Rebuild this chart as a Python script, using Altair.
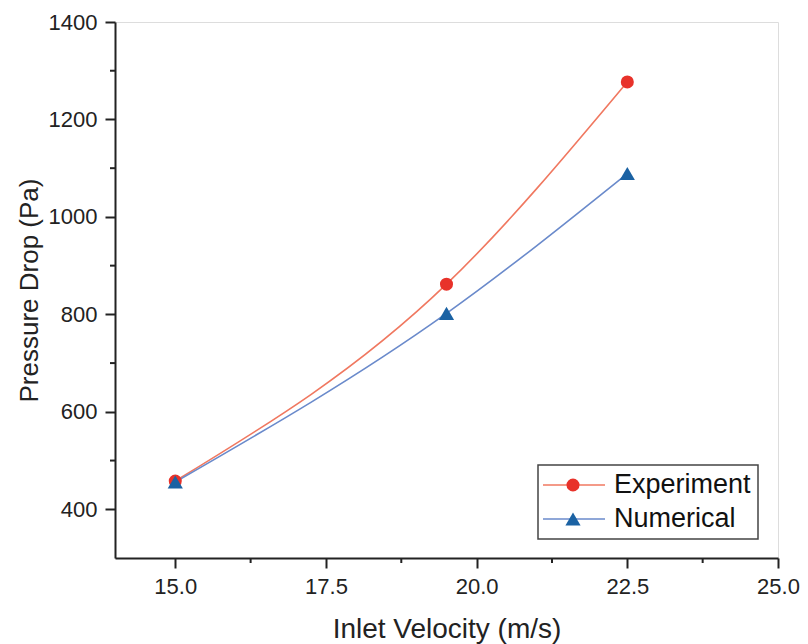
import altair as alt
import pandas as pd

# ---- data ----
velocity = [15.0, 19.5, 22.5]
experiment = [458, 862, 1277]
numerical = [456, 802, 1089]
series_names = ["Experiment", "Numerical"]
x_ticks = [15.0, 17.5, 20.0, 22.5, 25.0]
x_minor = [16.25, 18.75, 21.25, 23.75]
y_ticks = [400, 600, 800, 1000, 1200, 1400]
y_minor = [500, 700, 900, 1100, 1300]

W, H = 663, 536
FONT = "Liberation Sans"

line_colors = {"Experiment": "#F07860", "Numerical": "#6A8ACB"}
marker_colors = {"Experiment": "#E8322A", "Numerical": "#1B62A3"}
shapes = {"Experiment": "circle", "Numerical": "triangle-up"}
sizes = {"Experiment": 170, "Numerical": 230}
values = {"Experiment": experiment, "Numerical": numerical}

xscale = alt.Scale(domain=[14, 25], nice=False, zero=False)
yscale = alt.Scale(domain=[300, 1400], nice=False, zero=False)

x_axis = alt.Axis(values=x_ticks, format=".1f", title="Inlet Velocity (m/s)",
                  grid=False, tickSize=10, tickWidth=2, tickColor="#222",
                  domainColor="#222", domainWidth=2,
                  labelFont=FONT, labelFontSize=22, labelColor="#222", labelPadding=8,
                  titleFont=FONT, titleFontSize=28, titleFontWeight="normal",
                  titleColor="#222", titlePadding=18, labelFlush=False)
y_axis = alt.Axis(values=y_ticks, format="d", title="Pressure Drop (Pa)",
                  grid=False, tickSize=10, tickWidth=2, tickColor="#222",
                  domainColor="#222", domainWidth=2,
                  labelFont=FONT, labelFontSize=22, labelColor="#222", labelPadding=8,
                  titleFont=FONT, titleFontSize=26, titleFontWeight="normal",
                  titleColor="#222", titlePadding=6, labelFlush=False)

layers = []
for name in series_names:
    d = pd.DataFrame({"v": velocity, "p": values[name], "s": name})
    base = alt.Chart(d)
    layers.append(base.mark_line(interpolate="monotone", strokeWidth=1.6,
                                 color=line_colors[name]).encode(
        x=alt.X("v:Q", scale=xscale, axis=x_axis),
        y=alt.Y("p:Q", scale=yscale, axis=y_axis)))
for name in series_names:
    d = pd.DataFrame({"v": velocity, "p": values[name], "s": name})
    layers.append(alt.Chart(d).mark_point(filled=True, opacity=1, shape=shapes[name],
                                          size=sizes[name], color=marker_colors[name]).encode(
        x=alt.X("v:Q", scale=xscale),
        y=alt.Y("p:Q", scale=yscale)))

# minor ticks
xm = pd.DataFrame({"v": x_minor})
layers.append(alt.Chart(xm).mark_rule(color="#222", strokeWidth=2).encode(
    x=alt.X("v:Q", scale=xscale), y=alt.value(H), y2=alt.value(H + 5)))
ym = pd.DataFrame({"p": y_minor})
layers.append(alt.Chart(ym).mark_rule(color="#222", strokeWidth=2).encode(
    y=alt.Y("p:Q", scale=yscale), x=alt.value(0), x2=alt.value(-5)))

# legend (manual, Origin style)
box = pd.DataFrame({"s": ["legend"]})
layers.append(alt.Chart(box).mark_rect(fill="white", stroke="#444", strokeWidth=1.5).encode(
    x=alt.value(423), x2=alt.value(643), y=alt.value(443), y2=alt.value(517)))
row_y = [463, 497]
for name, ry in zip(series_names, row_y):
    ld = pd.DataFrame({"s": [name]})
    lc = alt.Chart(ld)
    layers.append(lc.mark_rule(color=line_colors[name], strokeWidth=1.6).encode(
        x=alt.value(428), x2=alt.value(490), y=alt.value(ry)))
    layers.append(lc.mark_point(filled=True, opacity=1, shape=shapes[name],
                                size=sizes[name], color=marker_colors[name]).encode(
        x=alt.value(458), y=alt.value(ry)))
    layers.append(lc.mark_text(align="left", baseline="middle", font=FONT, fontSize=27,
                               color="#111").encode(
        x=alt.value(499), y=alt.value(ry), text="s:N"))

chart = alt.layer(*layers).properties(
    width=W, height=H,
    autosize=alt.AutoSizeParams(type="none"),
    padding={"left": 107, "top": 14, "right": 22, "bottom": 90},
).configure_view(stroke="#222", strokeWidth=2).configure(background="white")

chart.save("out.html", embed_options={"renderer": "svg", "actions": False})
